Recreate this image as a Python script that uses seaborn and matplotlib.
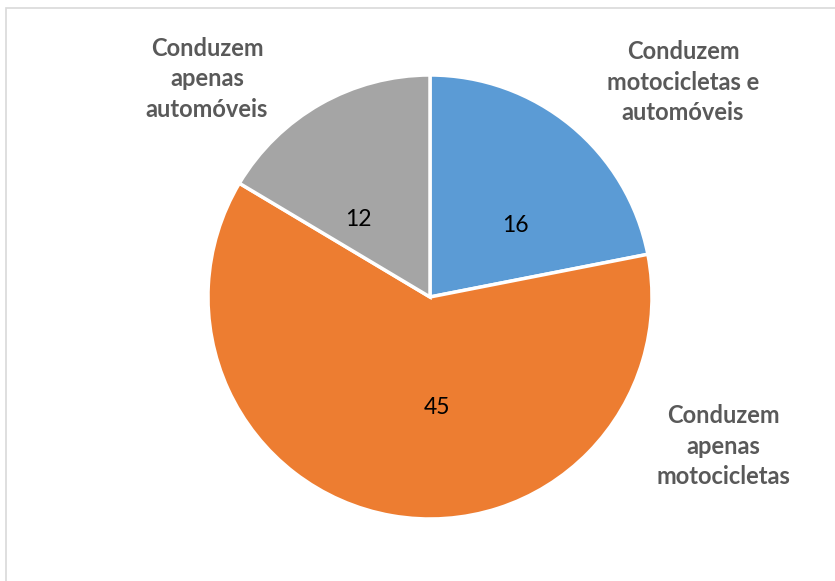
import matplotlib
matplotlib.use('Agg')
import matplotlib.pyplot as plt
import seaborn as sns
from matplotlib.patches import Rectangle

# Dados do gráfico
categorias = ['Conduzem\nmotocicletas e\nautomóveis',
              'Conduzem\napenas\nmotocicletas',
              'Conduzem\napenas\nautomóveis']
valores = [16, 45, 12]
cores = ['#5B9BD5', '#ED7D31', '#A5A5A5']

sns.set_theme(style='white')
plt.rcParams['font.family'] = ['Lato', 'DejaVu Sans']

W, H = 835, 581
fig = plt.figure(figsize=(W / 100, H / 100), dpi=100)
ax = fig.add_axes([0, 0, 1, 1])

wedges, texts, autotexts = ax.pie(
    valores, colors=cores, startangle=90, counterclock=False,
    center=(430, H - 297), radius=222,
    autopct=lambda p: f'{p * sum(valores) / 100:.0f}', pctdistance=0.5,
    wedgeprops=dict(edgecolor='white', linewidth=2.5),
    textprops=dict(fontsize=16.5, color='black'))

# posições dos rótulos de valor como no original
pos_valores = [(515, 226), (437, 407), (358, 220)]
for t, (x, y) in zip(autotexts, pos_valores):
    t.set_position((x, H - y))
    t.set_ha('center')
    t.set_va('center')

# rótulos das categorias
pos_cat = [(683, 82), (723, 446), (207, 79)]
for nome, (x, y) in zip(categorias, pos_cat):
    ax.text(x, H - y, nome, ha='center', va='center', fontsize=17,
            fontweight='bold', color='#595959', linespacing=1.4)

# moldura da área do gráfico
ax.add_patch(Rectangle((6, -10), W, H - 8 + 10, fill=False,
                       edgecolor='#D9D9D9', linewidth=1.2))

ax.set_xlim(0, W)
ax.set_ylim(0, H)
ax.set_aspect('equal')
ax.axis('off')

fig.savefig('out.png', dpi=100)
plt.close()
